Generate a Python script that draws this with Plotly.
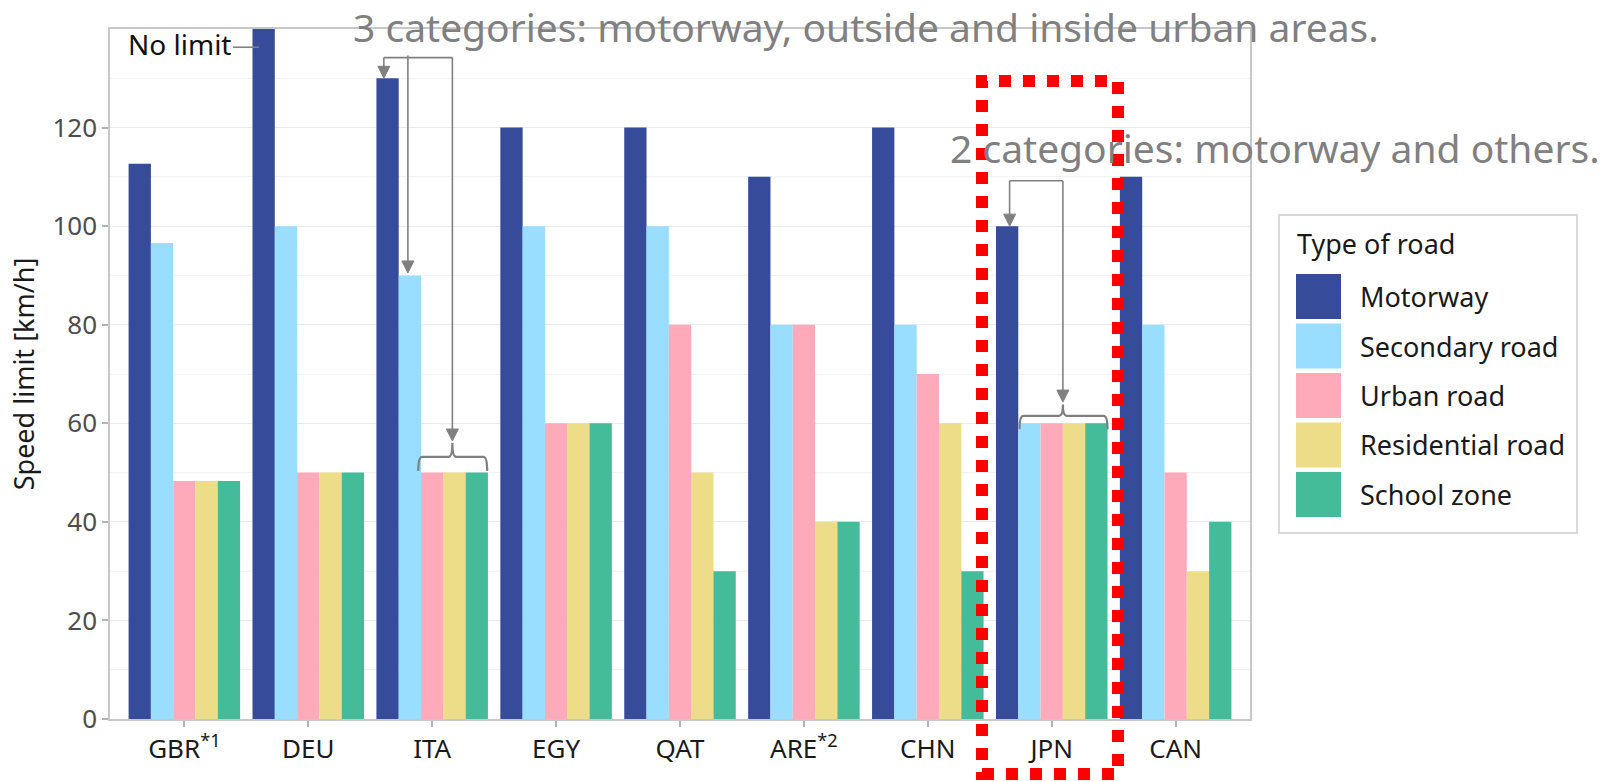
import plotly.graph_objects as go

# ---------------- data ----------------
countries = ["GBR", "DEU", "ITA", "EGY", "QAT", "ARE", "CHN", "JPN", "CAN"]
tick_labels = ["GBR<sup>*1</sup>", "DEU", "ITA", "EGY", "QAT", "ARE<sup>*2</sup>", "CHN", "JPN", "CAN"]
road_types = ["Motorway", "Secondary road", "Urban road", "Residential road", "School zone"]
motorway = [112.65, 140, 130, 120, 120, 110, 120, 100, 110]
secondary = [96.56, 100, 90, 100, 100, 80, 80, 60, 80]
urban = [48.28, 50, 50, 60, 80, 80, 70, 60, 50]
residential = [48.28, 50, 50, 60, 50, 40, 60, 60, 30]
school = [48.28, 50, 50, 60, 30, 40, 30, 60, 40]
series = [motorway, secondary, urban, residential, school]
colors = ["#364B9A", "#99DDFF", "#FFAABB", "#EEDD88", "#44BB99"]
y_ticks = [0, 20, 40, 60, 80, 100, 120]
y_minor = [10, 30, 50, 70, 90, 110, 130]

FONT = "Noto Sans"
GRAY = "#808080"

# figure geometry
W, H = 1604, 781
ML, MT = 110, 29
PW, PH = 1140, 690
MR, MB = W - ML - PW, H - MT - PH
YMAX = 140
XU = PW / (len(countries) + 0.2)   # px per category
YU = PH / YMAX                     # px per km/h

fig = go.Figure()
for name, vals, col in zip(road_types, series, colors):
    fig.add_trace(go.Bar(x=countries, y=vals, name=name, marker=dict(color=col, line=dict(width=0)),
                         showlegend=False))

fig.update_layout(
    width=W, height=H,
    margin=dict(l=ML, r=MR, t=MT, b=MB, autoexpand=False),
    barmode="group", bargap=0.1, bargroupgap=0,
    plot_bgcolor="white", paper_bgcolor="white",
    font=dict(family=FONT, size=26, color="#1a1a1a"),
)
fig.update_xaxes(
    type="category", categoryorder="array", categoryarray=countries,
    tickvals=countries, ticktext=tick_labels, automargin=False,
    range=[-0.6, len(countries) - 0.4],
    showgrid=False, showline=True, mirror=True, linecolor="#c8c8c8", linewidth=1.5,
    ticks="outside", ticklen=6, tickcolor="#b3b3b3", tickwidth=1.5,
    tickfont=dict(size=26, color="#1a1a1a"),
)
fig.update_yaxes(
    range=[0, YMAX], tickvals=y_ticks, automargin=False,
    showgrid=True, gridcolor="#ebebeb", gridwidth=1,
    minor=dict(tickvals=y_minor, showgrid=True, gridcolor="#f2f2f2", gridwidth=1, ticks=""),
    showline=True, mirror=True, linecolor="#c8c8c8", linewidth=1.5,
    ticks="outside", ticklen=6, tickcolor="#b3b3b3", tickwidth=1.5,
    tickfont=dict(size=26, color="#4d4d4d"),
    title=dict(text="Speed limit [km/h]", font=dict(size=27, color="#1a1a1a"), standoff=10),
    zeroline=False,
)

shapes = []
annos = []
LW = 1.6
HW = 6 / XU    # arrowhead half width (category units)
HH = 12 / YU   # arrowhead height (km/h units)

def line(x0, x1, y0, y1, w=LW):
    shapes.append(dict(type="line", xref="x", yref="y", x0=x0, x1=x1, y0=y0, y1=y1,
                       line=dict(color=GRAY, width=w)))

def arrow(x, y_from, y_to):
    line(x, x, y_from, y_to + HH * 0.6)
    path = f"M{x - HW},{y_to + HH} L{x + HW},{y_to + HH} L{x},{y_to} Z"
    shapes.append(dict(type="path", xref="x", yref="y", path=path,
                       fillcolor=GRAY, line=dict(color=GRAY, width=1)))

def brace(x0, x1, xc, yl, ye, yn):
    d = 0.03
    path = (f"M{x0},{ye} Q{x0},{yl} {x0+d},{yl} L{xc-d},{yl} Q{xc},{yl} {xc},{yn} "
            f"Q{xc},{yl} {xc+d},{yl} L{x1-d},{yl} Q{x1},{yl} {x1},{ye}")
    shapes.append(dict(type="path", xref="x", yref="y", path=path,
                       line=dict(color=GRAY, width=2.2)))

# ITA
i = countries.index("ITA")
line(i - 0.39, i + 0.163, 134.2, 134.2)
arrow(i - 0.39, 134.2, motorway[i])
arrow(i - 0.196, 134.6, secondary[i] + 0.5)
arrow(i + 0.163, 134.2, 56.4)
brace(i - 0.112, i + 0.444, i + 0.163, 53.2, 50.3, 56.0)

# JPN
j = countries.index("JPN")
line(j - 0.34, j + 0.09, 109.2, 109.2)
arrow(j - 0.34, 109.2, motorway[j])
arrow(j + 0.09, 109.2, 64.3)
brace(j - 0.26, j + 0.45, j + 0.09, 61.5, 58.8, 63.8)

# No limit label
d = countries.index("DEU")
line(d - 0.608, d - 0.398, 136.3, 136.3)
annos.append(dict(xref="x", yref="y", x=d - 0.608, y=136.9, xanchor="right", yanchor="middle",
                  text="No limit", showarrow=False, font=dict(size=28, color="#111111")))

def px_x(sx):   # screen x -> paper
    return (sx - ML) / PW

def px_y(sy):   # screen y -> paper
    return (MT + PH - sy) / PH

# category notes
annos.append(dict(xref="x", yref="paper", x=1.344, y=px_y(27), xanchor="left", yanchor="middle",
                  text="3 categories: motorway, outside and inside urban areas.", showarrow=False,
                  font=dict(size=39, color=GRAY)))
annos.append(dict(xref="x", yref="paper", x=6.166, y=px_y(148), xanchor="left", yanchor="middle",
                  text="2 categories: motorway and others.", showarrow=False,
                  font=dict(size=39, color=GRAY)))

# red dotted highlight box
shapes.append(dict(type="rect", xref="paper", yref="paper", x0=px_x(982), x1=px_x(1118),
                   y0=px_y(774), y1=px_y(81),
                   line=dict(color="#FF0000", width=12, dash="12px,12px"), layer="above"))

# custom legend
shapes.append(dict(type="rect", xref="paper", yref="paper", x0=px_x(1279), x1=px_x(1577),
                   y0=px_y(533), y1=px_y(215),
                   line=dict(color="#d9d9d9", width=2), fillcolor="white", layer="below"))
annos.append(dict(xref="paper", yref="paper", x=px_x(1295), y=px_y(243), xanchor="left", yanchor="middle",
                  text="Type of road", showarrow=False, font=dict(size=27, color="#1a1a1a")))
for k, (name, col) in enumerate(zip(road_types, colors)):
    top = 274 + k * 49.5
    shapes.append(dict(type="rect", xref="paper", yref="paper", x0=px_x(1296), x1=px_x(1341),
                       y0=px_y(top + 45), y1=px_y(top), line=dict(width=0), fillcolor=col))
    annos.append(dict(xref="paper", yref="paper", x=px_x(1358), y=px_y(top + 22.5),
                      xanchor="left", yanchor="middle",
                      text=name, showarrow=False, font=dict(size=27, color="#1a1a1a")))

fig.update_layout(shapes=shapes, annotations=annos)
fig.write_html("out.html", config={"displayModeBar": False},
               post_script="document.body.style.margin='0';document.body.style.overflow='hidden';")
